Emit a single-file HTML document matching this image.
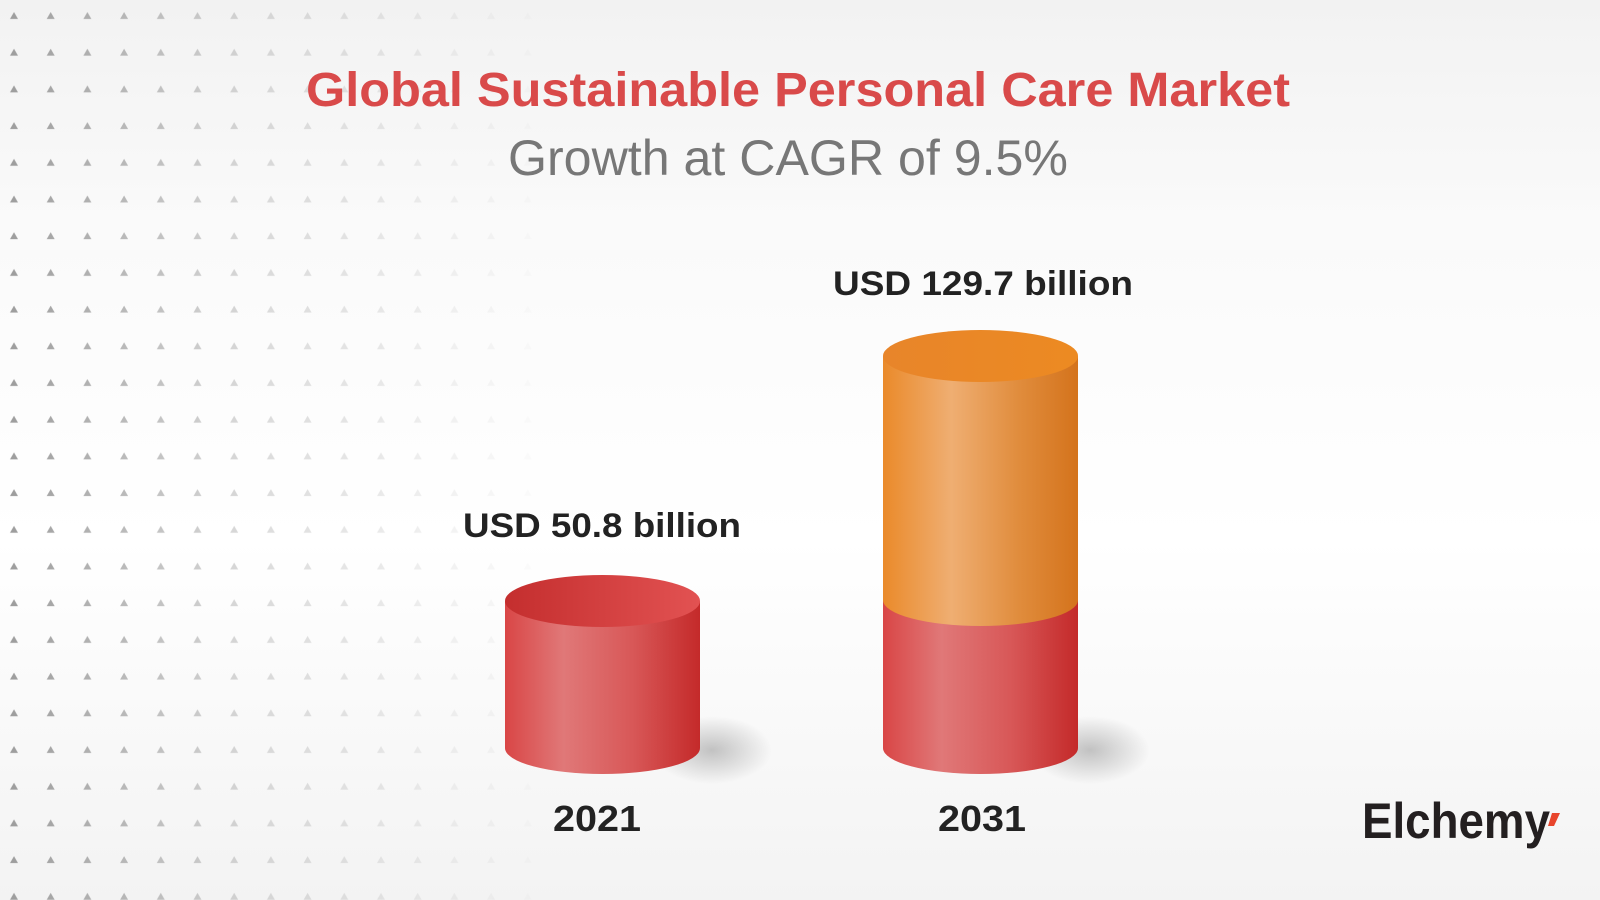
<!DOCTYPE html>
<html><head><meta charset="utf-8"><style>
html,body{margin:0;padding:0;width:1600px;height:900px;overflow:hidden;background:#fff}
svg{display:block}
text{font-family:"Liberation Sans",sans-serif}
</style></head><body>
<svg width="1600" height="900" viewBox="0 0 1600 900" xmlns="http://www.w3.org/2000/svg">
<defs>
<linearGradient id="bg" x1="0" y1="0" x2="0" y2="1">
<stop offset="0" stop-color="#f2f2f2"/><stop offset="0.25" stop-color="#fafafa"/><stop offset="0.6" stop-color="#ffffff"/><stop offset="1" stop-color="#f3f3f3"/>
</linearGradient>
<pattern id="tri" x="0" y="0" width="36.7" height="36.7" patternUnits="userSpaceOnUse">
<polygon points="10,19 14,12 18,19" fill="#9a9a9a"/>
</pattern>
<linearGradient id="fade" x1="0" y1="0" x2="1" y2="0">
<stop offset="0" stop-color="#fff" stop-opacity="1"/><stop offset="0.45" stop-color="#fff" stop-opacity="0.35"/><stop offset="1" stop-color="#fff" stop-opacity="0"/>
</linearGradient>
<mask id="m"><rect x="0" y="0" width="560" height="900" fill="url(#fade)"/></mask>
<linearGradient id="red" x1="0" y1="0" x2="1" y2="0">
<stop offset="0" stop-color="#d94646"/><stop offset="0.3" stop-color="#e07878"/><stop offset="0.65" stop-color="#d85858"/><stop offset="1" stop-color="#c42a2a"/>
</linearGradient>
<linearGradient id="redtop" x1="0" y1="0" x2="1" y2="0">
<stop offset="0" stop-color="#c42e2e"/><stop offset="1" stop-color="#e25252"/>
</linearGradient>
<linearGradient id="org" x1="0" y1="0" x2="1" y2="0">
<stop offset="0" stop-color="#ea8a2a"/><stop offset="0.35" stop-color="#efae72"/><stop offset="0.7" stop-color="#e08c3c"/><stop offset="1" stop-color="#d4731c"/>
</linearGradient>
<linearGradient id="orgtop" x1="0" y1="0" x2="1" y2="0">
<stop offset="0" stop-color="#e8852a"/><stop offset="1" stop-color="#ec8a22"/>
</linearGradient>
<radialGradient id="sh" cx="0.5" cy="0.5" r="0.5">
<stop offset="0" stop-color="#000" stop-opacity="0.22"/><stop offset="1" stop-color="#000" stop-opacity="0"/>
</radialGradient>
</defs>
<rect width="1600" height="900" fill="url(#bg)"/>
<rect x="0" y="0" width="560" height="900" fill="url(#tri)" mask="url(#m)"/>

<text x="798" y="106" font-size="48" font-weight="bold" fill="#d94a4a" text-anchor="middle" textLength="984" lengthAdjust="spacingAndGlyphs">Global Sustainable Personal Care Market</text>
<text x="788" y="175" font-size="50" fill="#777" text-anchor="middle" textLength="560" lengthAdjust="spacingAndGlyphs">Growth at CAGR of 9.5%</text>

<ellipse cx="712" cy="750" rx="60" ry="34" fill="url(#sh)"/>
<ellipse cx="1090" cy="750" rx="60" ry="34" fill="url(#sh)"/>

<path d="M505,601 L505,748 A97.5,26 0 0 0 700,748 L700,601 Z" fill="url(#red)"/>
<ellipse cx="602.5" cy="601" rx="97.5" ry="26" fill="url(#redtop)"/>

<path d="M883,600 L883,748 A97.5,26 0 0 0 1078,748 L1078,600 Z" fill="url(#red)"/>
<path d="M883,356 L883,600 A97.5,26 0 0 0 1078,600 L1078,356 Z" fill="url(#org)"/>
<ellipse cx="980.5" cy="356" rx="97.5" ry="26" fill="url(#orgtop)"/>

<text x="602" y="537" font-size="34" font-weight="bold" fill="#222" text-anchor="middle" textLength="278" lengthAdjust="spacingAndGlyphs">USD 50.8 billion</text>
<text x="983" y="295" font-size="34" font-weight="bold" fill="#222" text-anchor="middle" textLength="300" lengthAdjust="spacingAndGlyphs">USD 129.7 billion</text>
<text x="597" y="831" font-size="36" font-weight="bold" fill="#222" text-anchor="middle" textLength="88" lengthAdjust="spacingAndGlyphs">2021</text>
<text x="982" y="831" font-size="36" font-weight="bold" fill="#222" text-anchor="middle" textLength="88" lengthAdjust="spacingAndGlyphs">2031</text>

<text x="1362" y="838" font-size="50" font-weight="bold" fill="#231f20" textLength="188" lengthAdjust="spacingAndGlyphs">Elchemy</text>
<polygon points="1552,813 1560,813 1554,826 1548,826" fill="#e8452c"/>
</svg>
</body></html>
